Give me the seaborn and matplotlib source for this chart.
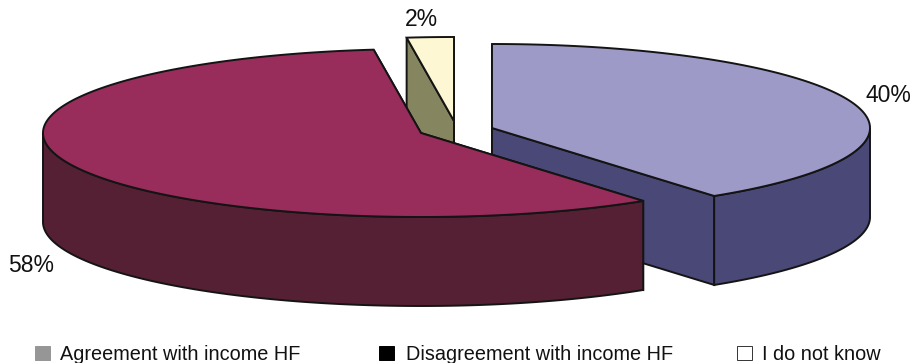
import numpy as np
import matplotlib
matplotlib.use("Agg")
import matplotlib.pyplot as plt
from matplotlib.patches import Polygon, Rectangle
import seaborn as sns

# Survey shares and legend entries
categories = ["Agreement with income HF", "Disagreement with income HF", "I do not know"]
shares = [40, 58, 2]
share_labels = ["40%", "58%", "2%"]

# Appearance of each slice: top face, outer wall, cut wall
top_colors = ["#9E9AC8", "#982C5B", "#FDF8D3"]
wall_colors = ["#4A4877", "#552033", "#85855F"]
cut_colors = ["#4A4877", "#552033", "#85855F"]
key_colors = ["#969696", "#000000", "#FFFFFF"]
key_edges = ["#969696", "#000000", "#333333"]

# Pixel layout of the projected pie
RX, RY, DEPTH = 378, 84, 89
apex_x = [492, 421, 454]
apex_y = [128, 133, 121]
label_x = [888.5, 31, 421]
label_y = [96, 266, 20]
key_x = [35, 379, 737]
legend_text_x = [60, 406, 762]
LEGEND_Y = 353
draw_order = [2, 0, 1]

sns.set_theme(style="white")
plt.rcParams["font.family"] = ["Liberation Sans", "DejaVu Sans"]

fig = plt.figure(figsize=(9.16, 3.63), dpi=100)
ax = fig.add_axes([0, 0, 1, 1])
ax.set_xlim(0, 916)
ax.set_ylim(363, 0)
ax.axis("off")

edge = dict(edgecolor="#141414", linewidth=1.4, joinstyle="miter")


def rim(i, a, b):
    """Rim points of slice i between clockwise angles a and b (degrees from top)."""
    t = np.radians(np.linspace(a, b, max(int(abs(b - a) * 2), 2)))
    return np.column_stack([apex_x[i] + RX * np.sin(t), apex_y[i] - RY * np.cos(t)])


# Clockwise angular span of each slice, starting at twelve o'clock
ends = np.cumsum(shares) / np.sum(shares) * 360
starts = np.concatenate([[0], ends[:-1]])
drop = np.array([0, DEPTH])

for i in draw_order:
    a, b = starts[i], ends[i]
    apex = np.array([apex_x[i], apex_y[i]])

    # Radial cut faces, hidden later by the top where they face away
    for angle in (a, b):
        p = rim(i, angle, angle + 0.01)[0]
        quad = [apex, p, p + drop, apex + drop]
        ax.add_patch(Polygon(quad, closed=True, facecolor=cut_colors[i], **edge))

    # Outer wall on the front half of the ellipse
    lo, hi = max(a, 90), min(b, 270)
    if hi > lo:
        arc = rim(i, lo, hi)
        wall = np.vstack([arc, (arc + drop)[::-1]])
        ax.add_patch(Polygon(wall, closed=True, facecolor=wall_colors[i], **edge))

    # Top face
    top = np.vstack([apex, rim(i, a, b)])
    ax.add_patch(Polygon(top, closed=True, facecolor=top_colors[i], **edge))

for i, text in enumerate(share_labels):
    ax.text(label_x[i], label_y[i], text, ha="center", va="center",
            fontsize=16.5, color="#111111")

# Legend row along the bottom edge
for i, name in enumerate(categories):
    ax.add_patch(Rectangle((key_x[i], LEGEND_Y - 7.5), 14.5, 14.5, facecolor=key_colors[i],
                           edgecolor=key_edges[i], linewidth=0.7))
    ax.text(legend_text_x[i], LEGEND_Y + 1.5, name, ha="left", va="center",
            fontsize=14.3, color="#111111")

fig.savefig("out.png", dpi=100)
